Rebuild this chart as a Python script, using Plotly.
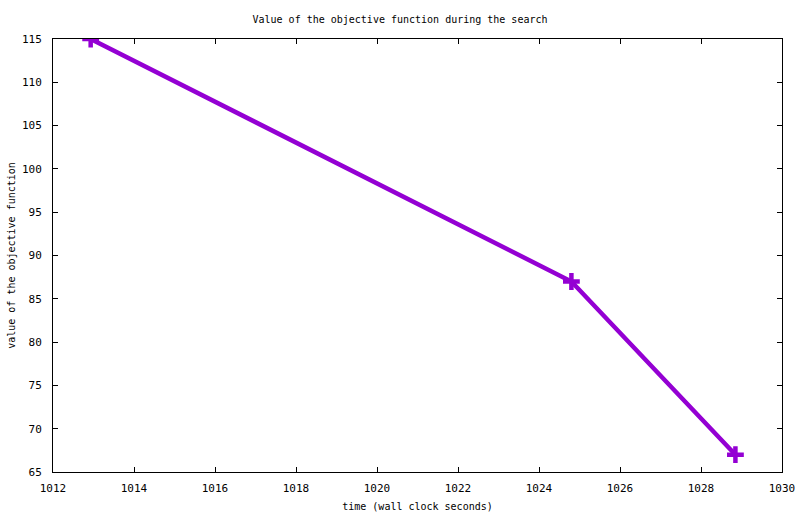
import plotly.graph_objects as go

# search progress: wall clock time vs objective value
times = [1012.93, 1024.8, 1028.85]
values = [115, 87, 67]

fig = go.Figure()
fig.add_trace(go.Scatter(
    x=times, y=values, mode="lines+markers",
    line=dict(color="#9400D3", width=4.5),
    marker=dict(symbol="cross-thin", size=12, line=dict(color="#9400D3", width=4.5)),
    showlegend=False,
))

axis_style = dict(
    showgrid=False, zeroline=False, showline=True, linecolor="black", linewidth=1,
    mirror="ticks", ticks="inside", ticklen=5, tickcolor="black", automargin=False,
    tickfont=dict(family="DejaVu Sans Mono", size=11, color="black"),
)

fig.update_layout(
    width=800, height=514,
    margin=dict(l=53, r=18, t=39, b=42),
    paper_bgcolor="white", plot_bgcolor="white",
    font=dict(family="DejaVu Sans Mono", size=10, color="black"),
    title=dict(text="Value of the objective function during the search",
               x=0.5, xanchor="center", y=0.963, yanchor="middle",
               font=dict(size=10)),
)
fig.update_xaxes(range=[1012, 1030], dtick=2, ticklabelstandoff=6,
                 title=dict(text="time (wall clock seconds)", standoff=8, font=dict(size=10)),
                 **axis_style)
fig.update_yaxes(range=[65, 115], dtick=5, ticklabelstandoff=8,
                 title=dict(text="value of the objective function", standoff=4, font=dict(size=10)),
                 **axis_style)

# page body has a default 8px margin, drop it so the figure sits at 0,0
fig.write_html("out.html", config={"displayModeBar": False},
               post_script="document.body.style.margin='0px';")
